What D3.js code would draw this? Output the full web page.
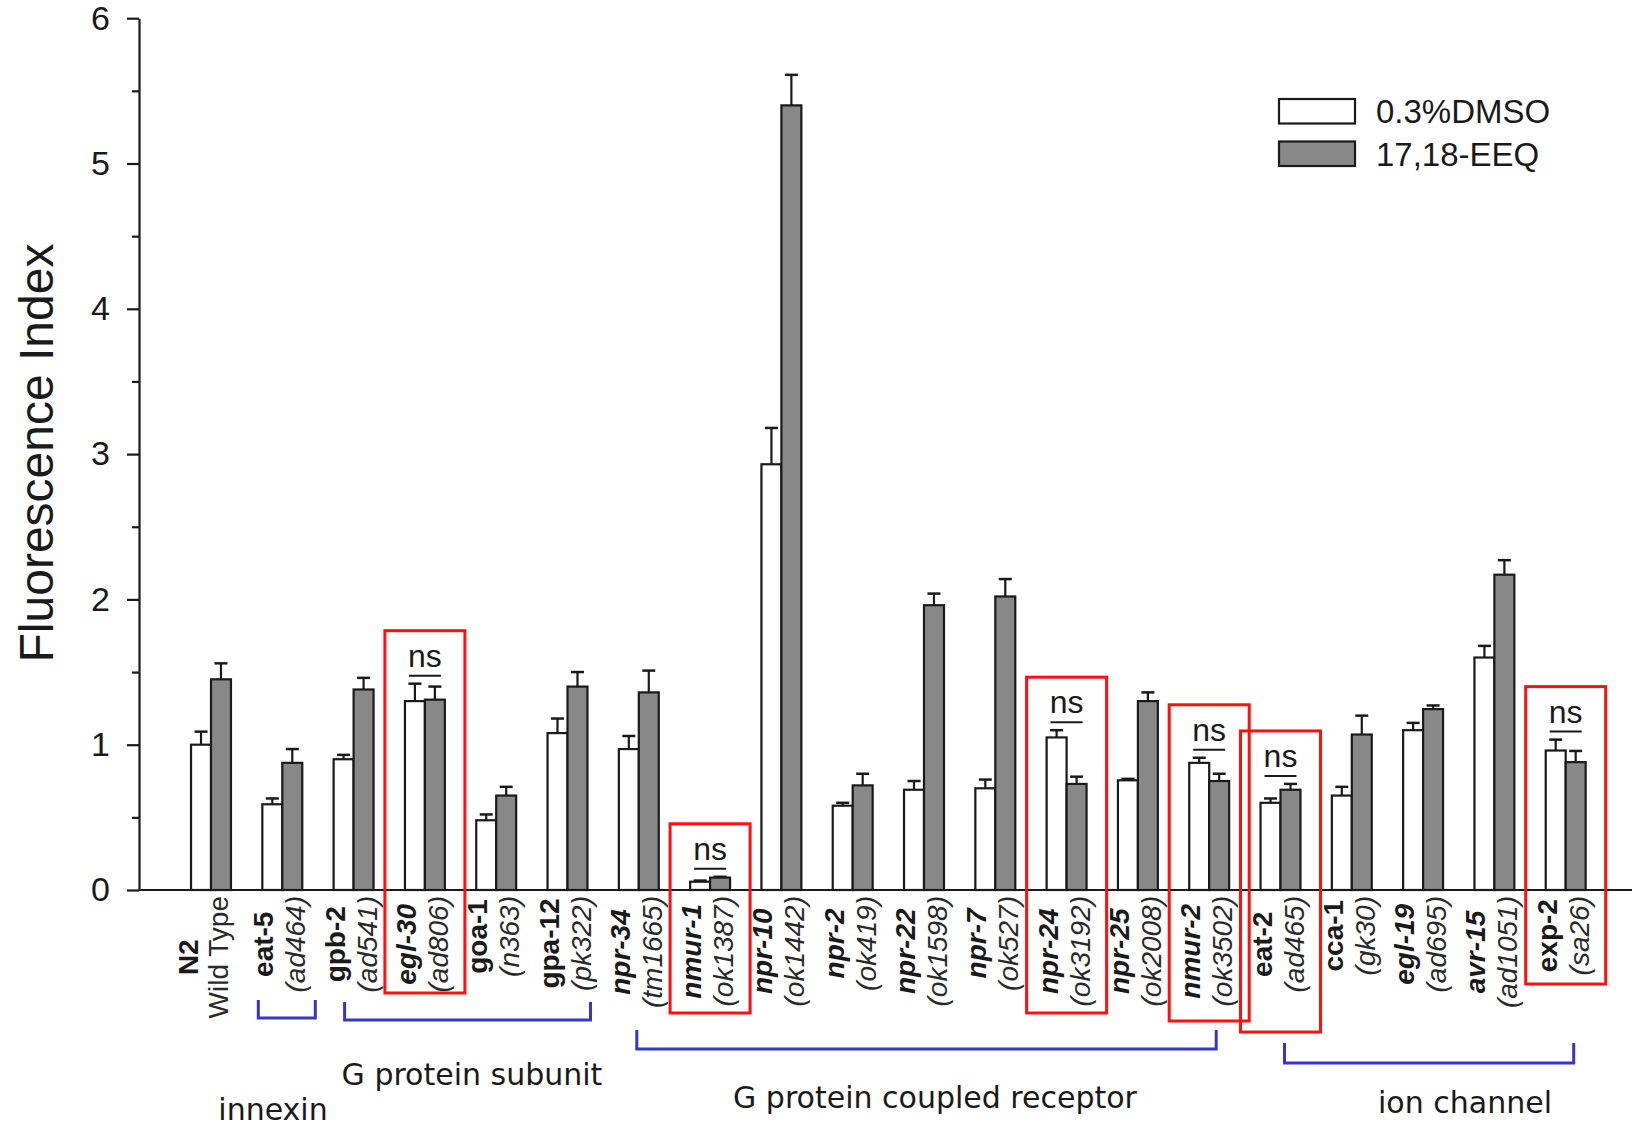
<!DOCTYPE html>
<html><head><meta charset="utf-8">
<script src="https://cdn.jsdelivr.net/npm/d3@7"></script>
<style>body{margin:0;background:#fff}svg{display:block}</style>
</head><body><svg id="c" width="1632" height="1128"></svg>
<script>
// ---------- data ----------
const genes = ["N2","eat-5","gpb-2","egl-30","goa-1","gpa-12","npr-34","nmur-1","npr-10","npr-2","npr-22","npr-7","npr-24","npr-25","nmur-2","eat-2","cca-1","egl-19","avr-15","exp-2"];
const alleles = ["Wild Type","(ad464)","(ad541)","(ad806)","(n363)","(pk322)","(tm1665)","(ok1387)","(ok1442)","(ok419)","(ok1598)","(ok527)","(ok3192)","(ok2008)","(ok3502)","(ad465)","(gk30)","(ad695)","(ad1051)","(sa26)"];
const italicGenes = ["egl-30","npr-34","nmur-1","npr-10","npr-2","npr-22","npr-7","npr-24","npr-25","nmur-2","egl-19","avr-15"];
const seriesNames = ["0.3%DMSO","17,18-EEQ"];
const dmso    = [1.00,0.59,0.90,1.30,0.48,1.08,0.97,0.057,2.93,0.58,0.69,0.70,1.05,0.755,0.875,0.60,0.65,1.10,1.60,0.96];
const dmsoErr = [0.09,0.04,0.03,0.12,0.04,0.10,0.09,0.008,0.25,0.02,0.06,0.06,0.05,0.01,0.035,0.03,0.06,0.05,0.08,0.075];
const eeq     = [1.45,0.875,1.38,1.31,0.65,1.40,1.36,0.085,5.40,0.72,1.96,2.02,0.73,1.30,0.75,0.69,1.07,1.245,2.17,0.88];
const eeqErr  = [0.11,0.095,0.08,0.09,0.06,0.10,0.15,0.006,0.21,0.08,0.08,0.12,0.05,0.06,0.05,0.04,0.13,0.025,0.10,0.077];
const yTicks = [0,1,2,3,4,5,6];
const yMinorTicks = [0.5,1.5,2.5,3.5,4.5,5.5];
const nsGenes = ["egl-30","nmur-1","npr-24","nmur-2","eat-2","exp-2"];
const groupNames = ["innexin","G protein subunit","G protein coupled receptor","ion channel"];
const groupFirst = ["eat-5","gpb-2","npr-34","eat-2"];
const groupLast  = ["eat-5","gpa-12","nmur-2","exp-2"];

// ---------- layout ----------
const nsBoxBottom = [993,1013,1013,1021,1032,984];
const bracketLayout = [
  {dl:-24, dr:33, top:1000, bot:1018, lx:273, ly:1120},
  {dl:-9,  dr:23, top:1002, bot:1020, lx:472, ly:1085},
  {dl:-2,  dr:7,  top:1030, bot:1049, lx:935, ly:1108},
  {dl:4,   dr:8,  top:1043, bot:1063, lx:1465, ly:1113}
];
const AX = 139, FONT = "'Liberation Sans', Arial, sans-serif", FONT2 = "'DejaVu Sans', Verdana, sans-serif";
const INK = "#1a1a1a";

const svg = d3.select("#c");
const y = d3.scaleLinear().domain([0,6]).range([890,18.2]);
const x = d3.scaleBand().domain(genes).range([175.35,1601.35]).paddingInner(0.44).paddingOuter(0.22);
const xs = d3.scaleBand().domain(seriesNames).range([0,x.bandwidth()]);
const fills = {"0.3%DMSO":"#ffffff","17,18-EEQ":"#888888"};
const cx = g => x(g) + x.bandwidth()/2;

// bars
const rows = genes.map((g,i)=>({g, vals:[{s:seriesNames[0],v:dmso[i],e:dmsoErr[i]},{s:seriesNames[1],v:eeq[i],e:eeqErr[i]}]}));
const bg = svg.append("g");
rows.forEach(r=>{
  r.vals.forEach(d=>{
    const bx = x(r.g)+xs(d.s), bw = xs.bandwidth();
    bg.append("line").attr("x1",bx+bw/2).attr("x2",bx+bw/2).attr("y1",y(d.v)).attr("y2",y(d.v+d.e)).attr("stroke",INK).attr("stroke-width",2.2);
    bg.append("line").attr("x1",bx+bw/2-6.5).attr("x2",bx+bw/2+6.5).attr("y1",y(d.v+d.e)).attr("y2",y(d.v+d.e)).attr("stroke",INK).attr("stroke-width",2.5);
    bg.append("rect").attr("x",bx).attr("y",y(d.v)).attr("width",bw).attr("height",y(0)-y(d.v))
      .attr("fill",fills[d.s]).attr("stroke",INK).attr("stroke-width",2.2);
  });
});

// axes
const ya = svg.append("g").attr("transform",`translate(${AX},0)`)
  .call(d3.axisLeft(y).tickValues(yTicks).tickFormat(d3.format("d")).tickSize(12).tickSizeOuter(0).tickPadding(17));
ya.select(".domain").attr("stroke",INK).attr("stroke-width",2.2);
ya.selectAll(".tick line").attr("stroke",INK).attr("stroke-width",2.2);
ya.selectAll(".tick text").attr("font-family",FONT).attr("font-size",34).attr("fill",INK);
const ym = svg.append("g").attr("transform",`translate(${AX},0)`)
  .call(d3.axisLeft(y).tickValues(yMinorTicks).tickFormat("").tickSize(7).tickSizeOuter(0));
ym.select(".domain").remove();
ym.selectAll(".tick line").attr("stroke",INK).attr("stroke-width",2.2);
svg.append("line").attr("x1",AX).attr("x2",1632).attr("y1",y(0)).attr("y2",y(0)).attr("stroke",INK).attr("stroke-width",2.2);

svg.append("text").text("Fluorescence Index").attr("transform",`translate(53,453) rotate(-90)`)
  .attr("text-anchor","middle").attr("font-family",FONT).attr("font-size",48).attr("fill",INK);

// category labels
const lg = svg.append("g").attr("font-family",FONT).attr("font-size",28).attr("fill",INK);
genes.forEach((g,i)=>{
  const c = cx(g);
  const o1 = i===0 ? -13 : -9, o2 = i===0 ? 17 : 23;
  const t1 = lg.append("text").text(g).attr("font-weight","bold").attr("font-style",italicGenes.includes(g)?"italic":"normal").attr("text-anchor","middle");
  const t2 = lg.append("text").text(alleles[i]).attr("font-style",i===0?"normal":"italic").attr("text-anchor","middle").attr("fill","#2a2a2a");
  const L = Math.max(t1.node().getComputedTextLength(), t2.node().getComputedTextLength());
  const cy = 896 + L/2;
  t1.attr("transform",`translate(${c+o1},${cy}) rotate(-90)`);
  t2.attr("transform",`translate(${c+o2},${cy}) rotate(-90)`);
});

// ns boxes
const ng = svg.append("g");
nsGenes.forEach((g,k)=>{
  const i = genes.indexOf(g);
  const top = Math.max(dmso[i]+dmsoErr[i], eeq[i]+eeqErr[i]);
  const c = cx(g), yt = y(top);
  ng.append("rect").attr("x",c-40).attr("y",yt-53).attr("width",80).attr("height",nsBoxBottom[k]-(yt-53))
    .attr("fill","none").attr("stroke","#ff1010").attr("stroke-width",3);
  ng.append("text").text("ns").attr("x",c).attr("y",yt-17).attr("text-anchor","middle")
    .attr("font-family",FONT).attr("font-size",32).attr("fill",INK);
  ng.append("line").attr("x1",c-16).attr("x2",c+16).attr("y1",yt-8).attr("y2",yt-8).attr("stroke",INK).attr("stroke-width",2);
});

// group brackets
const gg = svg.append("g");
groupNames.forEach((name,k)=>{
  const L = bracketLayout[k];
  const x0 = cx(groupFirst[k]) + L.dl, x1 = cx(groupLast[k]) + L.dr;
  gg.append("path").attr("d",`M${x0},${L.top}V${L.bot}H${x1}V${L.top}`).attr("fill","none").attr("stroke","#3636c8").attr("stroke-width",3);
  gg.append("text").text(name).attr("x",L.lx).attr("y",L.ly).attr("text-anchor","middle")
    .attr("font-family",FONT2).attr("font-size",30).attr("fill",INK);
});

// legend
const leg = svg.append("g");
seriesNames.forEach((s,k)=>{
  leg.append("rect").attr("x",1279).attr("y",99+k*42.5).attr("width",76).attr("height",24.5)
    .attr("fill",fills[s]).attr("stroke",INK).attr("stroke-width",2.2);
  leg.append("text").text(s).attr("x",1376).attr("y",123+k*42.5).attr("font-family",FONT).attr("font-size",33).attr("fill",INK);
});
</script></body></html>
